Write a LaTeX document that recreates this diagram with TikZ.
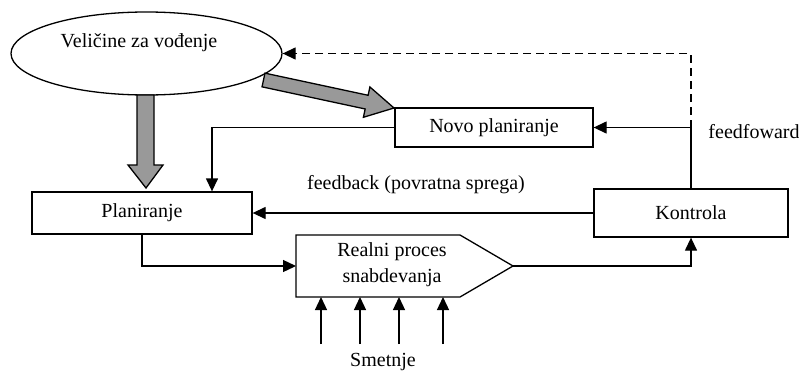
\documentclass[tikz,border=0pt]{standalone}
\usepackage{fontspec}
\setmainfont{Liberation Serif}
\usetikzlibrary{arrows.meta,shapes.geometric,calc}
\begin{document}
\begin{tikzpicture}[x=1pt,y=-1pt,
  every node/.style={font=\fontsize{20}{26}\selectfont, inner sep=0pt},
  box/.style={draw, line width=1.3pt, rectangle},
  conn/.style={line width=1.3pt, -{Triangle[length=13pt,width=12pt]}},
  bigarrow/.style={draw, line width=1.3pt, fill=black!40, line join=miter},
  label/.style={}]
\useasboundingbox (0,0) rectangle (799,372);

% ellipse
\node[draw, ellipse, line width=1.3pt, minimum width=271pt, minimum height=83pt] (vel) at (146.5,53.5) {};
\node[label] (veltxt) at (139,43) {Veličine za vođenje};

% boxes
\node[box, minimum width=220pt, minimum height=42pt] (plan) at (142,213) {Planiranje};
\node[box, minimum width=198pt, minimum height=39pt] (novo) at (494,127.5) {Novo planiranje};
\node[box, minimum width=194pt, minimum height=48pt] (kon) at (691,213) {Kontrola};

% real process (pentagon)
\coordinate (realW) at (296,266);
\coordinate (realE) at (513,266);
\coordinate (realS) at (404,297);
\draw[line width=1.3pt, line join=miter] (296,235) -- (460,235) -- (realE) -- (460,297) -- (296,297) -- cycle;
\node[label, align=center] (realtxt) at (392,265) {Realni proces\\snabdevanja};

% gray arrows
\draw[bigarrow] (137,95) -- (154,95) -- (154,165) -- (163,165) -- (146,188) -- (128,165) -- (137,165) -- cycle;
\coordinate (ds) at (263.5,80);
\coordinate (dt) at (394,108);
\coordinate (db) at ($(ds)!105.5pt!(dt)$);
\draw[bigarrow] ($(ds)!7pt!90:(dt)$) -- ($(db)!7pt!90:(dt)$) -- ($(db)!15.5pt!90:(dt)$) -- (dt)
  -- ($(db)!15.5pt!-90:(dt)$) -- ($(db)!7pt!-90:(dt)$) -- ($(ds)!7pt!-90:(dt)$) -- cycle;

% connectors
\coordinate (fbk) at (691,127.5);
\draw[conn] (kon.north) -- (fbk) -- (novo.east);
\draw[conn, dashed, dash pattern=on 8pt off 5pt] (fbk) |- (vel.east);
\draw[conn] (novo.west) -| ([xshift=70pt]plan.north);
\draw[conn] (kon.west) -- (plan.east);
\draw[conn] (plan.south) |- (realW);
\draw[conn] (realE) -| (kon.south);

% disturbances
\coordinate (s1) at (321,344);
\coordinate (s2) at (360,344);
\coordinate (s3) at (399,344);
\coordinate (s4) at (443,344);
\foreach \s in {s1,s2,s3,s4} \draw[conn] (\s) -- (\s |- realS);

% labels
\node[label] (fb) at (416,185) {feedback (povratna sprega)};
\node[label] (ff) at (754,132) {feedfoward};
\node[label] (sm) at (383,362) {Smetnje};
\end{tikzpicture}
\end{document}
